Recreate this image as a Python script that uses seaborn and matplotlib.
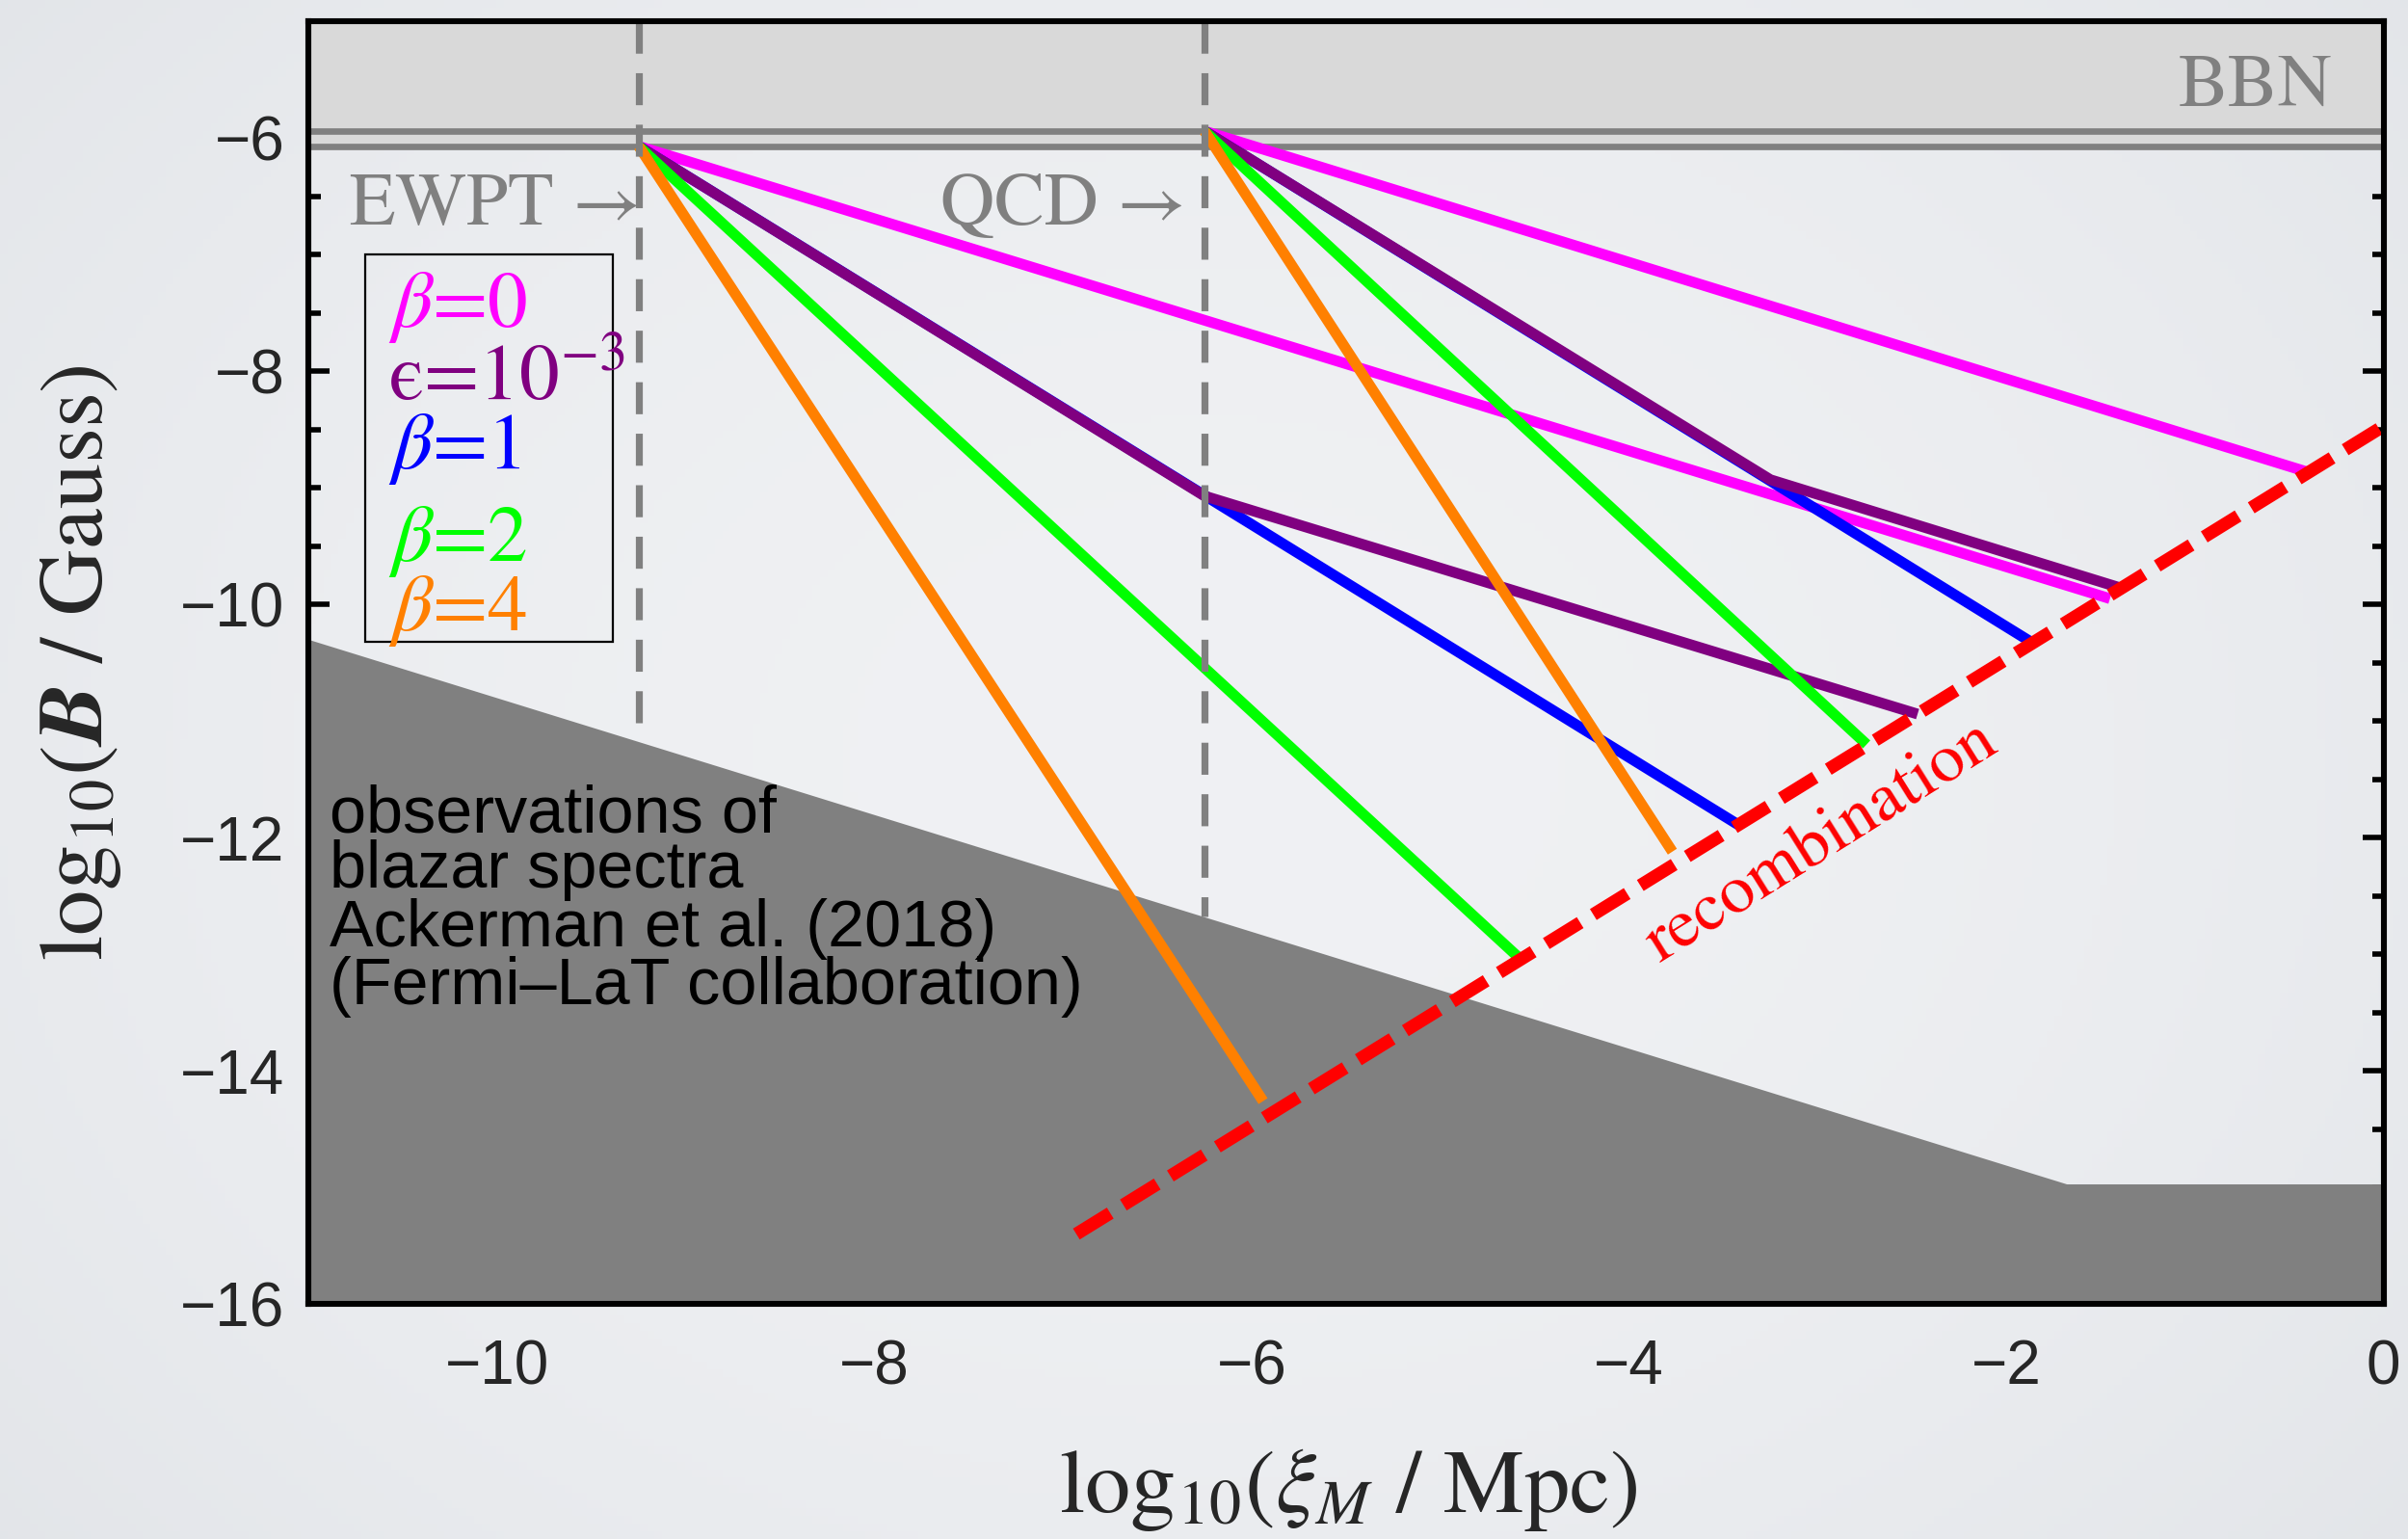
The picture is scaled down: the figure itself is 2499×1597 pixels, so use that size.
import numpy as np
import matplotlib
matplotlib.use("Agg")
import matplotlib.pyplot as plt
from matplotlib.patches import Rectangle
from matplotlib.ticker import MultipleLocator
import seaborn as sns

# ---------------------------------------------------------------
# data: log10(xi_M / Mpc) on x, log10(B / Gauss) on y
# ---------------------------------------------------------------
x_range = [-11, 0]
y_range = [-16, -5]

ewpt_x = -9.25
qcd_x = -6.25
bbn_levels = [-5.94, -6.07]

# blazar (Fermi-LAT) excluded region, upper boundary
blazar_x = [-11.0, -1.68, 0.0]
blazar_y = [-10.30, -14.97, -14.97]

# recombination line
recomb_x = [-6.93, 0.0]
recomb_y = [-15.40, -8.47]

# evolution tracks from the EWPT
ewpt_beta0_x = [-9.25, -1.45]
ewpt_beta0_y = [-6.07, -9.95]
ewpt_beta1_x = [-9.25, -3.42]
ewpt_beta1_y = [-6.07, -11.89]
ewpt_eps_x = [-9.25, -6.25, -2.47]
ewpt_eps_y = [-6.07, -9.07, -10.94]
ewpt_beta2_x = [-9.25, -4.57]
ewpt_beta2_y = [-6.07, -13.05]
ewpt_beta4_x = [-9.25, -5.94]
ewpt_beta4_y = [-6.07, -14.26]

# evolution tracks from the QCD transition
qcd_beta0_x = [-6.25, -0.41]
qcd_beta0_y = [-5.94, -8.86]
qcd_beta1_x = [-6.25, -1.86]
qcd_beta1_y = [-5.94, -10.33]
qcd_eps_x = [-6.25, -3.25, -1.39]
qcd_eps_y = [-5.94, -8.93, -9.86]
qcd_beta2_x = [-6.25, -2.74]
qcd_beta2_y = [-5.94, -11.20]
qcd_beta4_x = [-6.25, -3.77]
qcd_beta4_y = [-5.94, -12.12]

legend_labels = [r"$\beta$=0", "\u03f5=10$^{-3}$", r"$\beta$=1",
                 r"$\beta$=2", r"$\beta$=4"]
legend_colors = ["#ff00ff", "#800080", "#0000ff", "#00ff00", "#ff8000"]
legend_y = [-7.62, -8.25, -8.83, -9.63, -10.22]

blazar_text = ["observations of", "blazar spectra",
               "Ackerman et al. (2018)", "(Fermi\u2013LaT collaboration)"]
blazar_text_y = [-11.95, -12.43, -12.93, -13.43]

# ---------------------------------------------------------------
sns.set_theme(style="ticks")
plt.rcParams["font.family"] = ["Liberation Sans", "DejaVu Sans"]
plt.rcParams["mathtext.fontset"] = "stix"
plt.rcParams["axes.unicode_minus"] = True

SERIF = ["STIXGeneral", "Liberation Serif", "DejaVu Serif"]
GRAY = "#808080"

fig = plt.figure(figsize=(12.495, 7.985), dpi=200)

# soft vignette behind everything
bg = fig.add_axes([0, 0, 1, 1], zorder=0)
yy, xx = np.mgrid[0:1:200j, 0:1:320j]
r2 = ((xx - 0.5) / 0.5) ** 2 * 0.6 + ((yy - 0.5) / 0.5) ** 2 * 0.4
centre = np.array([0.940, 0.945, 0.955])
edge = np.array([0.890, 0.900, 0.915])
img = centre[None, None, :] - (centre - edge)[None, None, :] * r2[..., None]
bg.imshow(np.clip(img, 0, 1), extent=[0, 1, 0, 1], aspect="auto", origin="lower")
bg.axis("off")

ax = fig.add_axes([0.1282, 0.1527, 0.8616, 0.8333], zorder=1)
ax.patch.set_facecolor("none")
ax.set_xlim(*x_range)
ax.set_ylim(*y_range)


def draw_line(x, y, color, width, z, dashes=None):
    sns.lineplot(x=x, y=y, color=color, sort=False, estimator=None, ax=ax)
    ln = ax.lines[-1]
    ln.set_linewidth(width)
    ln.set_zorder(z)
    ln.set_solid_capstyle("butt")
    ln.set_solid_joinstyle("round")
    if dashes is not None:
        ln.set_dashes(dashes)
        ln.set_dash_capstyle("butt")
    return ln


# BBN band and lines
ax.axhspan(min(bbn_levels), y_range[1], color="#d9d9d9", lw=0, zorder=1)
for lvl in bbn_levels:
    ax.axhline(lvl, color=GRAY, lw=2.4, zorder=2)

# blazar bound
ax.fill_between(blazar_x, blazar_y, y_range[0], color=GRAY, lw=0, zorder=2)

# tracks
tracks = [
    (ewpt_beta0_x, ewpt_beta0_y, "#ff00ff"),
    (qcd_beta0_x, qcd_beta0_y, "#ff00ff"),
    (ewpt_beta1_x, ewpt_beta1_y, "#0000ff"),
    (qcd_beta1_x, qcd_beta1_y, "#0000ff"),
    (ewpt_eps_x, ewpt_eps_y, "#800080"),
    (qcd_eps_x, qcd_eps_y, "#800080"),
    (ewpt_beta2_x, ewpt_beta2_y, "#00ff00"),
    (qcd_beta2_x, qcd_beta2_y, "#00ff00"),
    (ewpt_beta4_x, ewpt_beta4_y, "#ff8000"),
    (qcd_beta4_x, qcd_beta4_y, "#ff8000"),
]
for i, (tx, ty, col) in enumerate(tracks):
    draw_line(tx, ty, col, 4.0, 3 + i * 0.01)

# transition markers (dashed), ending at the blazar boundary
for xv in (ewpt_x, qcd_x):
    y_end = np.interp(xv, blazar_x, blazar_y)
    draw_line([xv, xv], [y_range[1], y_end], GRAY, 2.6, 4, dashes=(4.6, 2.8))

# recombination
draw_line(recomb_x, recomb_y, "#ff0000", 4.8, 5, dashes=(3.1, 1.2))

# labels inside the plot
ax.text(-0.27, -5.72, "BBN", color=GRAY, fontsize=28, family=SERIF,
        ha="right", va="baseline", zorder=6)
ax.text(-10.78, -6.74, "EWPT \u2192", color=GRAY, fontsize=28, family=SERIF,
        ha="left", va="baseline", zorder=6)
ax.text(-7.65, -6.74, "QCD \u2192", color=GRAY, fontsize=28, family=SERIF,
        ha="left", va="baseline", zorder=6)
ax.text(-2.98, -12.04, "recombination", color="#ff0000", fontsize=26,
        family=SERIF, ha="center", va="center", rotation=32, zorder=6,
        rotation_mode="anchor")

ax.add_patch(Rectangle((-10.70, -10.32), 1.31, 3.32, fill=False,
                       ec="black", lw=0.8, zorder=6))
for lab, col, ly in zip(legend_labels, legend_colors, legend_y):
    ax.text(-10.58, ly, lab, color=col, fontsize=30, family=SERIF,
            ha="left", va="baseline", zorder=7)

for line, ly in zip(blazar_text, blazar_text_y):
    ax.text(-10.89, ly, line, color="black", fontsize=24.6,
            ha="left", va="baseline", zorder=7)

# axes styling
ax.set_xlabel(r"$\mathrm{log}_{10}(\xi_M\ /\ \mathrm{Mpc})$", fontsize=34)
ax.set_ylabel(r"$\mathrm{log}_{10}(\mathbfit{B}\ /\ \mathrm{Gauss})$", fontsize=34)
ax.xaxis.set_label_coords(0.501, -0.111)
ax.yaxis.set_label_coords(-0.0895, 0.5)

ax.xaxis.set_major_locator(MultipleLocator(2))
ax.xaxis.set_minor_locator(MultipleLocator(0.5))
ax.yaxis.set_major_locator(MultipleLocator(2))
ax.yaxis.set_minor_locator(MultipleLocator(0.5))
ax.tick_params(which="both", direction="in", top=True, right=True,
               color="black", width=2.0, zorder=8)
ax.tick_params(which="major", length=8, labelsize=23)
ax.tick_params(axis="x", which="major", pad=13)
ax.tick_params(axis="y", which="major", pad=9)
ax.tick_params(which="minor", length=4.5)
for sp in ax.spines.values():
    sp.set_linewidth(2.2)
    sp.set_color("black")
    sp.set_zorder(8)

fig.savefig("out.png", dpi=200)
